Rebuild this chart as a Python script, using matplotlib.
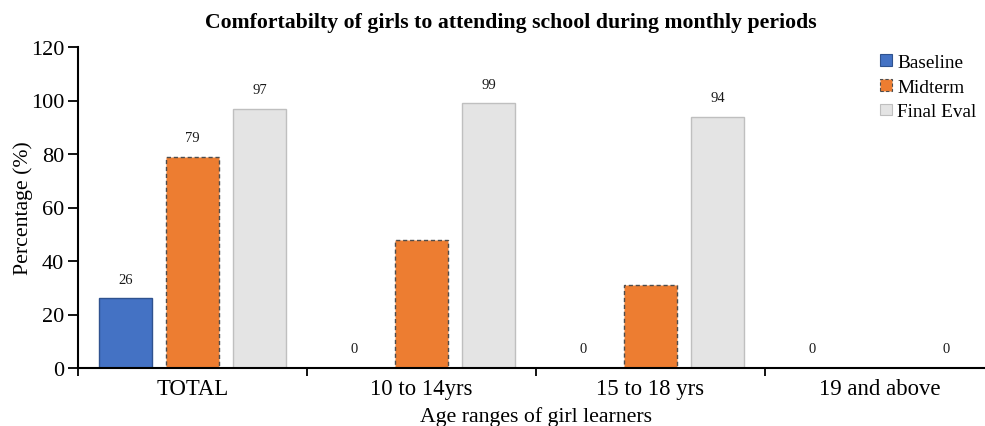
import numpy as np
import matplotlib
matplotlib.use("Agg")
import matplotlib.pyplot as plt
from matplotlib.patches import Patch

plt.rcParams["font.family"] = ["Liberation Serif", "DejaVu Serif"]

categories = ["TOTAL", "10 to 14yrs", "15 to 18 yrs", "19 and above"]
series_names = ["Baseline", "Midterm", "Final Eval"]
baseline = [26, 0, 0, 0]
midterm = [79, 48, 31, np.nan]
final_eval = [97, 99, 94, 0]
# which values carry a printed data label
baseline_labeled = [True, True, True, True]
midterm_labeled = [True, False, False, False]
final_labeled = [True, True, True, True]

title = "Comfortabilty of girls to attending school during monthly periods"
x_title = "Age ranges of girl learners"
y_title = "Percentage (%)"
y_ticks = [0, 20, 40, 60, 80, 100, 120]

fig = plt.figure(figsize=(9.85, 4.27), dpi=100)
ax = fig.add_axes([78 / 985, 58 / 427, 916 / 985, 321 / 427])

x = np.arange(len(categories))
step = 0.293
width = 0.231

styles = [
    dict(color="#4472C4", edgecolor="#2F528F", linewidth=1.0, linestyle="-"),
    dict(color="#ED7D31", edgecolor="#4D4D4D", linewidth=1.0, linestyle=(0, (3, 2))),
    dict(color="#E4E4E4", edgecolor="#BFBFBF", linewidth=1.0, linestyle="-"),
]
data = [baseline, midterm, final_eval]
flags = [baseline_labeled, midterm_labeled, final_labeled]

for i, (vals, st, fl) in enumerate(zip(data, styles, flags)):
    offs = x + (i - 1) * step
    ax.bar(offs, vals, width=width, zorder=2, **st)
    for xi, v, show in zip(offs, vals, fl):
        if show and not np.isnan(v):
            ax.annotate(f"{v:g}", xy=(xi, v), xytext=(0, 13.7), textcoords="offset points",
                        ha="center", va="center", fontsize=10.5, color="#1a1a1a")

ax.set_xlim(-0.5, len(categories) - 0.5)
ax.set_ylim(0, 120)
ax.set_yticks(y_ticks)
ax.tick_params(axis="y", labelsize=16, direction="out", length=7, width=1.3, pad=3, colors="black")

ax.set_xticks(x)
ax.set_xticklabels(categories, fontsize=16.4)
ax.tick_params(axis="x", which="major", length=0, pad=7)
ax.set_xticks(np.arange(len(categories) + 1) - 0.5, minor=True)
ax.tick_params(axis="x", which="minor", length=6, width=1.3, direction="out")

for s in ["top", "right"]:
    ax.spines[s].set_visible(False)
for s in ["left", "bottom"]:
    ax.spines[s].set_linewidth(1.5)
    ax.spines[s].set_color("black")

ax.set_xlabel(x_title, fontsize=15.7)
ax.xaxis.set_label_coords(0.5, -0.118)
ax.set_ylabel(y_title, fontsize=15.7)
ax.yaxis.set_label_coords(-0.049, 0.5)

fig.text(511 / 985, 1 - 23 / 427, title, ha="center", va="center",
         fontsize=15.7, fontweight="bold")

handles = [Patch(facecolor=st["color"], edgecolor=st["edgecolor"],
                 linestyle=st["linestyle"], linewidth=0.8) for st in styles]
fig.legend(handles, series_names, loc="upper left", bbox_to_anchor=(880 / 985, 1 - 55 / 427),
           frameon=False, fontsize=13.9, handlelength=0.6, handleheight=0.55,
           handletextpad=0.3, labelspacing=0.4, borderpad=0, borderaxespad=0)

fig.savefig("out.png", dpi=100)
